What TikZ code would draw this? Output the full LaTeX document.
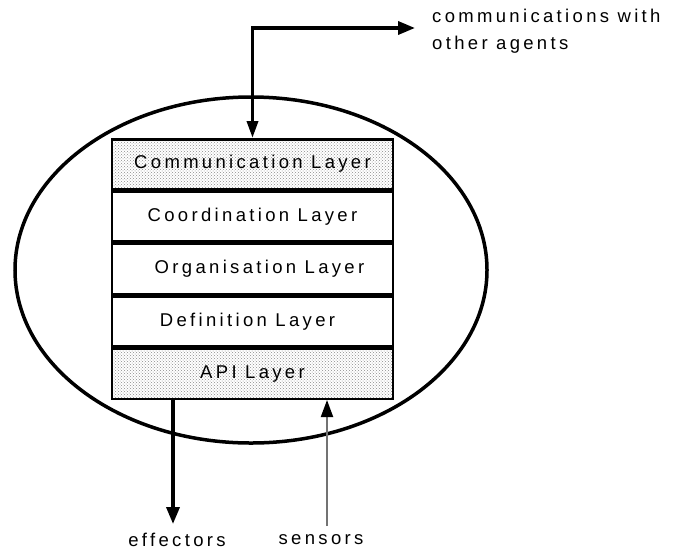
\documentclass[tikz,border=0pt]{standalone}
\usepackage{fontspec}
\setmainfont{Liberation Sans}
\newfontfamily\lblfont[LetterSpace=18]{Liberation Sans}
\usetikzlibrary{arrows.meta,positioning,patterns}

\tikzset{
  layer/.style={draw, line width=2.5pt, fill=white, minimum width=281pt,
    minimum height=49.9pt, inner sep=0pt, font=\lblfont\fontsize{18.5}{22}\selectfont},
  stipple/.style={preaction={fill=white}, pattern=crosshatch dots, pattern color=black!45},
  txt/.style={font=\lblfont\fontsize{18.5}{27}\selectfont, inner sep=0pt},
  bigarrow/.style={line width=3.5pt, -{Triangle[length=17pt,width=13pt]}},
}

\begin{document}
\begin{tikzpicture}[x=1pt,y=-1pt]
  \useasboundingbox (0,0) rectangle (676,549);

  % agent boundary
  \draw[line width=3.5pt] (251,270) ellipse [x radius=236pt, y radius=173pt];

  % layer stack
  \node[layer, stipple] (comm) at (252.5,164.2) {Communication Layer};
  \node[layer, below=0pt of comm] (coord) {Coordination Layer};
  \node[layer, below=0pt of coord] (org) {\hspace*{14pt}Organisation Layer};
  \node[layer, below=0pt of org] (def) {Definition Layer\hspace*{10pt}};
  \node[layer, stipple, below=0pt of def] (api) {API Layer};

  % outside world
  \node[txt, anchor=west, align=left] (other) at (432,31) {communications with\\other agents};
  \node[txt] (eff) at (177,540) {effectors};
  \node[txt] (sens) at (321,540) {sensors};

  \coordinate (corner) at (252.5,28);
  \coordinate (outtip) at (415,28);
  \coordinate (effend) at (173,524);
  \coordinate (sensstart) at (327,526);

  \draw[line width=3.5pt, {Triangle[length=17pt,width=11pt]}-{Triangle[length=17pt,width=13pt]}]
    (comm.north) -- (corner) -- (outtip);
  \draw[bigarrow] (api.south -| effend) -- (effend);
  \draw[line width=2pt, black!55, -{Triangle[length=17pt,width=12pt,color=black]}] (sensstart) -- (api.south -| sensstart);
\end{tikzpicture}
\end{document}
